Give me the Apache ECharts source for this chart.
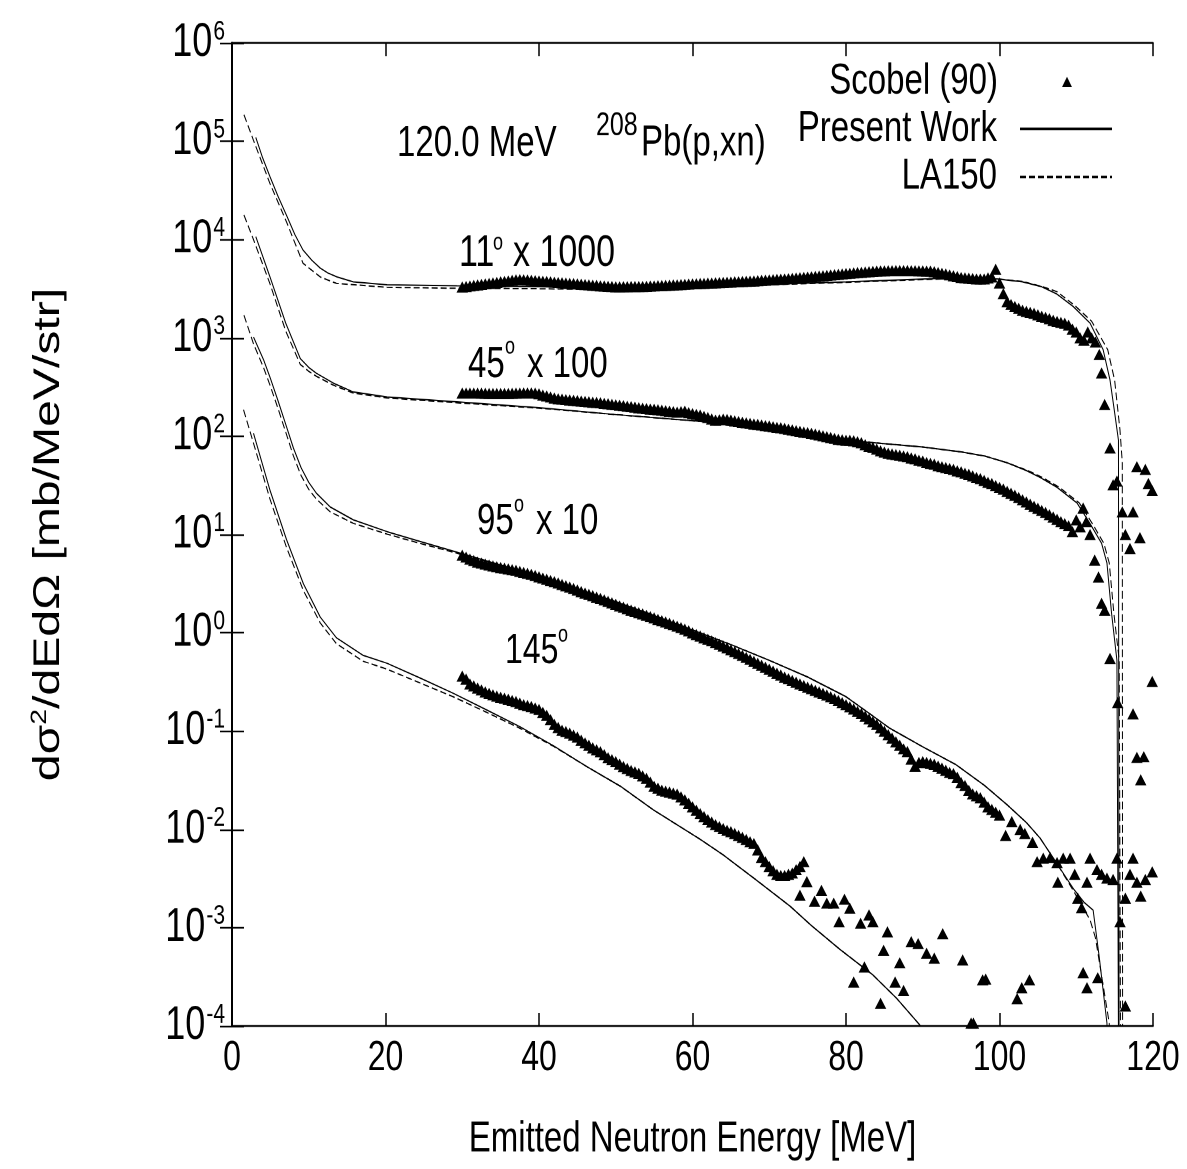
<!DOCTYPE html>
<html><head><meta charset="utf-8">
<script src="https://cdn.jsdelivr.net/npm/echarts@6/dist/echarts.min.js"></script>
<style>
html,body{margin:0;padding:0;background:#fff;overflow:hidden}
#wrap{width:1187px;height:1169px;overflow:hidden}
/* the reference figure is vertically stretched; the chart is drawn at 899px height and stretched to 1169px */
#c{width:1187px;height:899px;transform:scaleY(1.3003337);transform-origin:0 0}
</style>
</head><body><div id="wrap"><div id="c"></div></div>
<script>
const K = 1169 / 899;
const FONT = "'Liberation Sans',Arial,sans-serif";

// energy bins of the dense experimental data (MeV)
const binE = [30,30.5,31,31.5,32,32.5,33,33.5,34,34.5,35,35.5,36,36.5,37,37.5,38,38.5,39,39.5,40,40.5,41,41.5,42,42.5,43,43.5,44,44.5,45,45.5,46,46.5,47,47.5,48,48.5,49,49.5,50,50.5,51,51.5,52,52.5,53,53.5,54,54.5,55,55.5,56,56.5,57,57.5,58,58.5,59,59.5,60,60.5,61,61.5,62,62.5,63,63.5,64,64.5,65,65.5,66,66.5,67,67.5,68,68.5,69,69.5,70,70.5,71,71.5,72,72.5,73,73.5,74,74.5,75,75.5,76,76.5,77,77.5,78,78.5,79,79.5,80,80.5,81,81.5,82,82.5,83,83.5,84,84.5,85,85.5,86,86.5,87,87.5,88,88.5,89,89.5,90,90.5,91,91.5,92,92.5,93,93.5,94,94.5,95,95.5,96,96.5,97,97.5,98,98.5,99,99.5,100,100.5,101,101.5,102,102.5,103,103.5,104,104.5,105,105.5,106,106.5,107,107.5,108,108.5,109];

// Scobel (90) data, already multiplied by the plotted factor
const exp11 = [3300,3340,3380,3420,3460,3500,3550,3590,3630,3670,3720,3760,3800,3850,3900,3920,3900,3880,3850,3830,3800,3770,3750,3720,3690,3660,3640,3610,3590,3570,3540,3520,3490,3470,3440,3420,3390,3370,3350,3330,3310,3310,3320,3320,3330,3330,3340,3340,3350,3370,3380,3400,3410,3430,3440,3460,3470,3490,3510,3530,3550,3560,3580,3590,3610,3620,3640,3650,3670,3690,3700,3720,3730,3750,3770,3780,3800,3820,3850,3870,3890,3910,3940,3960,3980,4010,4040,4070,4100,4130,4160,4190,4220,4260,4290,4330,4370,4410,4440,4480,4520,4550,4590,4620,4650,4690,4720,4750,4790,4800,4810,4820,4830,4840,4840,4840,4840,4830,4820,4810,4800,4790,4790,4710,4630,4550,4470,4380,4290,4210,4120,4090,4050,4020,3980,3980,3980,4080,4170,5000];
const tail11 = [[100,3630],[100.5,2820],[101,2340],[101.5,2190],[102,2090],[102.5,2000],[103,1910],[103.5,1860],[104,1820],[104.5,1780],[105,1720],[105.5,1660],[106,1620],[106.5,1570],[107,1510],[107.5,1470],[108,1440],[108.5,1410],[109,1350],[109.5,1230],[110,1150],[110.5,1000],[111,950],[111.5,1150],[112,1000],[112.5,910],[113,680],[113.3,440],[113.7,210],[114.4,76],[114.8,32],[115.3,35],[116,17],[116.4,10],[117,7.2],[117.4,17],[117.9,49],[118.3,9.3],[119,46],[119.4,33],[119.9,28]];

const exp45 = [275,275,275,275,275,274,273,272,272,272,272,272,272,273,274,275,276,276,276,275,270,262,257,251,245,240,238,236,234,232,230,228,226,224,222,221,219,216,214,211,209,207,205,202,200,198,195,193,191,189,188,186,184,182,180,178,176,178,180,174,170,167,164,159,155,150,146,147,149,148,146,143,141,139,137,135,133,132,130,128,127,125,123,122,120,118,116,114,112,110,109,107,105,103,101,99,97,95,93,92,91,91,90,88,86,82,79,77,74,71,69,67,66,65,64,63,62,60,59,57,56,54,53,52,50,49,48,47,46,44.5,43.5,42,41,39.5,38,37,35.5,34,33,31.5,30.2,29,27.5,26.3,25.1,23.8,22.6,21.5,20.4,19.4,18.5,17.6,16.8,15.9,15.1,14.3,13.5,12.9,12.3];
const tail45 = [[109.5,10.7],[110,14.1],[110.5,12.0],[110.9,18.6],[111.3,13.5],[111.8,10],[112.4,5.5],[112.9,3.7],[113.3,2.0],[113.7,1.7],[114.4,0.55],[115.4,0.195],[117.4,0.15],[117.9,0.054],[118.4,0.032],[118.8,0.055],[119.9,0.32]];

const exp95 = [6.17,5.9,5.62,5.43,5.25,5.13,5.01,4.9,4.79,4.7,4.62,4.54,4.47,4.4,4.32,4.22,4.12,4.03,3.94,3.83,3.72,3.61,3.51,3.41,3.31,3.21,3.11,3.01,2.92,2.82,2.73,2.63,2.54,2.46,2.39,2.31,2.24,2.16,2.09,2.02,1.95,1.88,1.82,1.76,1.70,1.65,1.60,1.56,1.51,1.46,1.42,1.37,1.33,1.29,1.25,1.21,1.17,1.13,1.09,1.05,1.0,0.96,0.93,0.89,0.861,0.83,0.795,0.764,0.733,0.703,0.673,0.645,0.617,0.59,0.563,0.538,0.513,0.49,0.468,0.447,0.427,0.408,0.389,0.372,0.355,0.342,0.328,0.315,0.302,0.291,0.28,0.27,0.26,0.251,0.242,0.233,0.224,0.214,0.205,0.195,0.186,0.177,0.168,0.159,0.151,0.142,0.133,0.125,0.117,0.108,0.1,0.092,0.085,0.078,0.072,0.066,0.062,0.052,0.044,0.048,0.049,0.048,0.047,0.046,0.044,0.042,0.040,0.038,0.037,0.034,0.030,0.028,0.025,0.023,0.022,0.021,0.019,0.017,0.016,0.015,0.014];
const tail95 = [[100.8,0.0087],[101.6,0.012],[102.7,0.010],[103.3,0.0091],[104.3,0.0074],[104.9,0.0047],[105.7,0.0051],[106.6,0.0052],[107.5,0.0046],[107.6,0.0029],[108.3,0.0051],[109.2,0.0051],[109.8,0.0035],[110.2,0.0020],[110.7,0.0016],[111.4,0.0029],[111.8,0.0051],[112.7,0.0039],[113.3,0.0035],[114.0,0.0032],[114.8,0.0031],[115.3,0.0051],[115.7,0.00115],[116.4,0.0020],[117.0,0.0035],[117.4,0.0051],[117.9,0.0029],[118.4,0.0021],[119.0,0.0031],[119.9,0.0037]];

const exp145 = [0.363,0.339,0.302,0.289,0.275,0.263,0.251,0.242,0.234,0.227,0.221,0.216,0.211,0.205,0.20,0.193,0.186,0.182,0.178,0.172,0.166,0.155,0.145,0.131,0.117,0.109,0.102,0.099,0.0955,0.091,0.087,0.081,0.076,0.072,0.0676,0.0646,0.0617,0.0577,0.0537,0.0513,0.049,0.0463,0.0437,0.0417,0.0398,0.0385,0.0372,0.0351,0.0331,0.0303,0.0275,0.0263,0.0251,0.0245,0.024,0.0234,0.0229,0.0214,0.020,0.0185,0.017,0.0157,0.0145,0.0135,0.0126,0.0119,0.0112,0.0107,0.0102,0.0098,0.0095,0.0091,0.0087,0.0083,0.0079,0.0075,0.0072,0.0062,0.0052,0.0047,0.0042,0.0038,0.0035,0.0034,0.0034,0.0035,0.0036,0.0039,0.0042,0.0047];
const tail145 = [[74.0,0.00214],[74.9,0.00295],[75.9,0.00186],[76.8,0.0024],[77.5,0.00178],[78.4,0.00178],[79.1,0.00115],[79.8,0.00195],[80.5,0.00158],[81.0,0.00028],[81.9,0.00111],[82.4,0.0004],[83.0,0.00135],[83.5,0.00115],[84.5,0.00017],[84.9,0.00059],[85.4,0.00091],[86.4,0.00028],[87.0,0.00044],[87.5,0.00023],[88.5,0.00072],[89.4,0.00069],[90.5,0.00055],[91.5,0.00049],[92.6,0.00087],[95.2,0.00047],[96.3,0.000107],[96.6,0.000107],[97.8,0.000295],[98.2,0.0003],[102.3,0.00019],[102.9,0.000245],[103.9,0.000295],[110.9,0.00035],[111.4,0.000245],[112.8,0.00031],[116.4,0.00016]];

// Present Work (solid) and LA150 (dashed) calculations, [E, value]
const pw11 = [[3.1,109600],[4.0,67600],[4.95,43650],[6.0,27540],[7.2,16980],[8.2,11220],[9.25,7834],[10.4,6166],[11.5,5129],[12.5,4571],[13.7,4169],[15.8,3715],[20.2,3467],[29.3,3388],[40,3311],[50,3199],[60,3311],[70,3508],[80,3715],[92.6,4046],[99.7,3981],[103,3715],[105.5,3311],[107.4,2818],[109.6,2089],[111.8,1413],[113.5,759],[114.4,372],[115.0,174],[115.5,91],[115.6,1e-6]];
const la11 = [[1.56,186200],[2.8,102300],[4.95,37150],[7.1,15140],[9.25,5754],[11.5,4169],[13.6,3589],[20.2,3273],[29.3,3199],[40,3162],[50,3090],[60,3236],[70,3467],[80,3673],[92.6,3981],[99.7,3981],[103,3758],[105.7,3300],[107.5,2951],[109.8,2138],[112,1479],[114.1,759],[115,372],[115.7,115],[116,53.7],[116.05,1e-6]];
const pw45 = [[3.1,10720],[4.95,4169],[7,1413],[8.9,617],[10,501],[11,437],[13.2,347],[15.8,282],[20.2,251],[29.3,224],[40,195],[50,166],[61.3,141],[70,115],[80.5,90.2],[90,77.6],[95,69.2],[98,63.1],[101,53.7],[103.5,44.7],[105.3,38.0],[107.5,30.2],[110.1,20.9],[111.8,12.9],[113.3,8.13],[114,5.13],[114.6,1.585],[115.3,0.525],[115.6,1e-6]];
const la45 = [[1.56,17780],[2.8,10000],[4.95,3548],[7,1175],[8.9,537],[10,457],[11,407],[13.2,331],[15.8,275],[20.2,245],[29.3,219],[40,193],[50,166],[61.3,141],[70,115],[80.5,90.2],[90,77.6],[95,69.2],[98,63.1],[101,53.7],[103.7,44.7],[105.6,38.0],[107.8,30.2],[110.4,20.9],[112.1,12.9],[113.6,8.13],[114.3,5.13],[114.9,1.585],[115.6,0.525],[115.85,1e-6]];
const pw95 = [[2.8,1023],[4.1,603],[4.95,398],[6,229],[7,132],[8,75.9],[9,47.9],[10,33.9],[11,26.3],[12.8,19.05],[15.8,14.1],[20.2,10.7],[24.5,8.51],[29.3,6.61],[35,4.90],[40,3.76],[45,2.79],[50,2.07],[55,1.50],[60,1.07],[65,0.759],[70,0.525],[75,0.355],[80,0.224],[83.2,0.148],[85.7,0.107],[90,0.0692],[94.3,0.0457],[98,0.0282],[101,0.0178],[103.5,0.01175],[105.3,0.00813],[107.5,0.00447],[109.6,0.00251],[111,0.00182],[112.2,0.00151],[113,0.0005],[114,0.000107],[114.5,1e-6]];
const la95 = [[1.56,1698],[2.8,871],[4.1,501],[4.95,331],[6,191],[7,110],[8,63.1],[9,39.8],[10,28.8],[11,22.9],[12.8,17.0],[15.8,13.0],[20.2,10.1],[24.5,8.13],[29.3,6.46],[35,4.84],[40,3.72],[45,2.79],[50,2.07],[55,1.50],[60,1.07],[65,0.759],[70,0.525],[75,0.355],[80,0.224],[83.2,0.148],[85.7,0.107],[90,0.0692],[94.3,0.0457],[98,0.0282],[101,0.0178],[103.5,0.01175],[105.3,0.00813],[107.5,0.00447],[109.6,0.0024],[111.8,0.0012],[112.5,0.00079],[114.3,0.000107],[114.7,1e-6]];
const pw145 = [[2.8,107],[4.95,28.2],[7.1,8.9],[9.3,3.16],[11.5,1.445],[13.6,0.891],[17.1,0.589],[20.2,0.49],[24.5,0.347],[28.8,0.243],[33.2,0.164],[37.5,0.111],[41.9,0.0708],[46.2,0.0437],[50.6,0.0275],[54.9,0.0158],[61,0.00794],[64,0.0055],[68.4,0.00302],[72.7,0.00166],[75.5,0.00105],[79.2,0.000603],[83.5,0.000331],[86.6,0.000191],[89.4,0.000107],[92,0.000063]];
const la145 = [[1.5,186],[2.8,85],[4.95,22.9],[7.1,7.41],[9.3,2.69],[11.5,1.26],[13.6,0.776],[17.1,0.513],[20.2,0.427],[24.5,0.309],[28.8,0.224],[33.2,0.155],[37.5,0.107],[41.9,0.07],[46.2,0.0437],[50.6,0.0275],[54.9,0.0158],[61,0.00794],[64,0.0055],[68.4,0.00302],[72.7,0.00166],[75.5,0.00105],[79.2,0.000603],[83.5,0.000331],[86.6,0.000191],[89.4,0.000107],[92,0.000063]];

const xTicks = [0, 20, 40, 60, 80, 100, 120];
const yExponents = [-4, -3, -2, -1, 0, 1, 2, 3, 4, 5, 6];

function dense(vals) { return vals.map((v, i) => [binE[i], v]); }
const expSets = [dense(exp11).concat(tail11), dense(exp45).concat(tail45), dense(exp95).concat(tail95), dense(exp145).concat(tail145)];
const pwSets = [pw11, pw45, pw95, pw145];
const laSets = [la11, la45, la95, la145];

const series = [];
expSets.forEach(d => series.push({
  name: 'Scobel (90)', type: 'scatter', data: d, symbol: 'triangle', symbolSize: [11.5, 8.6],
  itemStyle: {color: '#000', opacity: 1}, silent: true, z: 2
}));
pwSets.forEach(d => series.push({
  name: 'Present Work', type: 'line', data: d, symbol: 'none', showSymbol: false,
  lineStyle: {color: '#000', width: 1}, itemStyle: {color: '#000'}, silent: true, z: 3
}));
laSets.forEach(d => series.push({
  name: 'LA150', type: 'line', data: d, symbol: 'none', showSymbol: false,
  lineStyle: {color: '#000', width: 1, type: [6, 3]}, itemStyle: {color: '#000'}, silent: true, z: 3
}));

function lineLegend(name, centerY) {
  return {
    data: [name], right: 74, top: centerY / K - 15, align: 'right', orient: 'horizontal',
    itemWidth: 92, itemHeight: 8, padding: 0, selectedMode: false,
    itemStyle: {color: 'rgba(0,0,0,0)', borderColor: 'rgba(0,0,0,0)', borderWidth: 0},
    textStyle: {fontSize: 33, fontFamily: FONT, color: '#000', padding: [0, 18, 0, 0]}
  };
}

function txt(text, x, yRef, size) {
  return {type: 'text', x: x, y: yRef / K, silent: true,
    style: {text: text, fontSize: size, fontFamily: FONT, fill: '#000', align: 'left', verticalAlign: 'middle'}};
}

const option = {
  animation: false,
  backgroundColor: '#fff',
  grid: {left: 232, right: 34, top: 43 / K, bottom: 899 - 1026 / K, containLabel: false},
  legend: [
    {data: [{name: 'Scobel (90)', icon: 'triangle'}], right: 1187 - 1072, top: 80 / K - 15, align: 'right',
     itemWidth: 10, itemHeight: 8, padding: 0, selectedMode: false,
     itemStyle: {color: '#000', opacity: 1},
     textStyle: {fontSize: 33, fontFamily: FONT, color: '#000', padding: [0, 59, 0, 0]}},
    lineLegend('Present Work', 127),
    lineLegend('LA150', 175)
  ],
  xAxis: [{
    type: 'value', min: 0, max: 120, interval: 20, position: 'bottom',
    axisLine: {lineStyle: {color: '#000', width: 1.6}}, axisTick: {inside: true, length: 10, lineStyle: {color: '#000', width: 1.5}},
    splitLine: {show: false},
    axisLabel: {fontSize: 32, fontFamily: FONT, color: '#000', margin: 9,
      formatter: v => xTicks.indexOf(v) >= 0 ? String(v) : ''},
    name: 'Emitted Neutron Energy [MeV]', nameLocation: 'middle', nameGap: 71,
    nameTextStyle: {fontSize: 33, fontFamily: FONT, color: '#000'}
  }, {
    type: 'value', min: 0, max: 120, interval: 20, position: 'top',
    axisLine: {lineStyle: {color: '#000', width: 1.6}}, axisTick: {inside: true, length: 10, lineStyle: {color: '#000', width: 1.5}},
    splitLine: {show: false}, axisLabel: {show: false}
  }],
  yAxis: [{
    type: 'log', logBase: 10, min: 1e-4, max: 1e6, splitNumber: 10, position: 'left',
    axisLine: {lineStyle: {color: '#000', width: 2}}, axisTick: {inside: true, length: 12, lineStyle: {color: '#000', width: 1.3}},
    minorTick: {show: false}, splitLine: {show: false},
    axisLabel: {
      margin: 7, color: '#000',
      formatter: v => {
        const e = Math.round(Math.log10(v));
        return yExponents.indexOf(e) >= 0 ? '{b|10}{s|' + e + '}' : '';
      },
      rich: {
        b: {fontSize: 36, fontFamily: FONT, color: '#000'},
        s: {fontSize: 21, fontFamily: FONT, color: '#000', padding: [0, 0, 17, 1]}
      }
    },
    name: '{a|d\u03c3}{s|2}{a|/dEd\u03a9 [mb/MeV/str]}', nameLocation: 'middle', nameGap: 163, nameRotate: 90,
    nameTextStyle: {
      color: '#000',
      rich: {
        a: {fontSize: 37, fontFamily: FONT, color: '#000'},
        s: {fontSize: 22, fontFamily: FONT, color: '#000', padding: [0, 0, 18, 0]}
      }
    }
  }, {
    type: 'log', logBase: 10, min: 1e-4, max: 1e6, splitNumber: 10, position: 'right',
    axisLine: {lineStyle: {color: '#000', width: 2}}, axisTick: {inside: true, length: 12, lineStyle: {color: '#000', width: 1.3}},
    minorTick: {show: false}, splitLine: {show: false}, axisLabel: {show: false}
  }],
  graphic: [
    txt('120.0 MeV', 397, 144, 33),
    txt('208', 596, 126, 25),
    txt('Pb(p,xn)', 641, 143.5, 33),
    txt('11', 459, 253.5, 34), txt('o', 493, 243.5, 18), txt('x 1000', 513, 253.5, 34),
    txt('45', 468, 365, 33), txt('o', 505, 347.5, 18), txt('x 100', 527, 365, 33),
    txt('95', 477, 522, 33), txt('o', 514, 505.5, 18), txt('x 10', 536, 522, 33),
    txt('145', 505, 651.5, 32), txt('o', 558, 635.5, 18)
  ],
  series: series
};

const chart = echarts.init(document.getElementById('c'), null, {renderer: 'canvas', devicePixelRatio: 2});
chart.setOption(option);
</script></body></html>
